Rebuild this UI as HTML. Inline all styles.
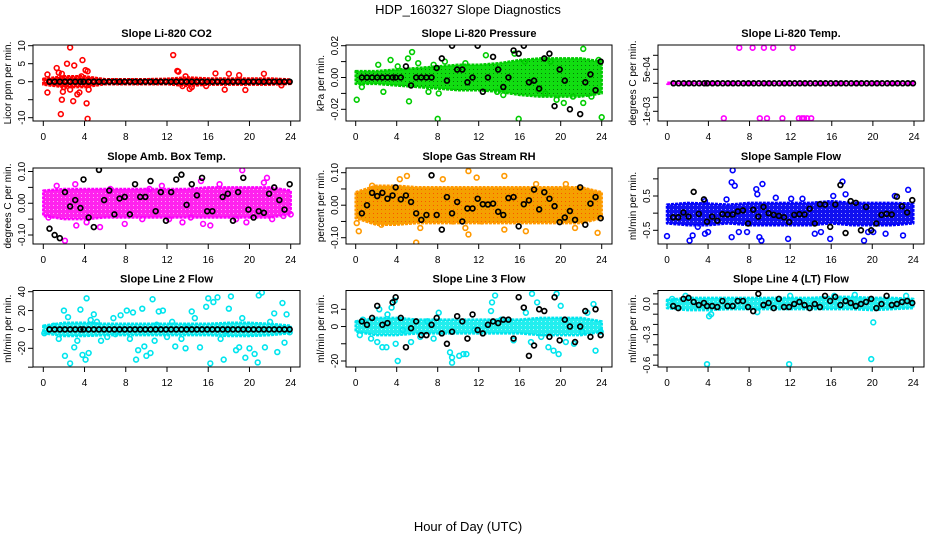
<!DOCTYPE html>
<html><head><meta charset="utf-8"><style>
html,body{margin:0;padding:0;background:#fff;}
svg{display:block;font-family:"Liberation Sans",sans-serif;}
</style></head><body>
<svg id="chart" width="936" height="540" viewBox="0 0 936 540">
<text x="468" y="14" text-anchor="middle" font-size="13">HDP_160327  Slope Diagnostics</text>
<text x="468" y="531" text-anchor="middle" font-size="13">Hour of Day (UTC)</text>
</svg>
<script>
// ---- shared data ----
const xTicks = [0,4,8,12,16,20,24];
const blackHours = [0.6,1.1,1.6,2.1,2.6,3.1,3.6,3.9,4.4,4.9,5.4,5.9,6.4,6.9,7.4,7.9,8.4,8.9,9.4,9.9,10.4,10.9,11.4,11.9,12.4,12.9,13.4,13.9,14.4,14.9,15.4,15.9,16.4,16.9,17.4,17.9,18.4,18.9,19.4,19.9,20.4,20.9,21.4,21.9,22.4,22.9,23.4,23.9];
const bandHours = [0,2,4,6,8,10,12,14,16,18,20,22,24];

// ---- panel 1: Li-820 CO2 ----
const p1BandLo = [-0.8,-1.5,-1.5,-0.7,-0.7,-0.7,-0.7,-1.2,-0.8,-0.8,-0.8,-0.8,-0.6];
const p1BandHi = [0.8,1.5,1.5,0.7,0.7,0.7,0.8,1.2,0.9,0.9,0.9,0.9,0.6];
const p1Hours = [2.6,12.6,3.8,2.3,3.0,1.3,4.1,4.3,13.0,13.1,1.8,0.4,1.7,1.8,2.9,4.3,4.2,3.3,2.6,4.4,1.9,0.4,3.7,16.7,18.0,19.0,21.4,17.6,19.6,14.2,14.4,13.5,13.8,23.1,15.8,1.5,2.0,3.5];
const p1Vals = [9.5,7.4,6.0,5.0,4.5,3.8,3.2,2.9,3.0,2.8,2.2,-3.0,-9.0,-5.0,-5.4,-10.3,-6.0,-3.5,-2.2,-2.2,-2.8,2.0,1.5,2.3,2.2,1.8,2.2,-2.2,-2.3,-2.0,-1.5,-1.2,1.5,-1.0,-1.2,2.5,-1.5,-3.0];
const p1Black = [0,0,0,0,0,0,0,0,0,0,0,0,0,0,0,0,0,0,0,0,0,0,0,0,0,0,0,0,0,0,0,0,0,0,0,0,0,0,0,0,0,0,0,0,0,0,0,0];

// ---- panel 2: Li-820 Pressure ----
const p2BandLo = [-0.004,-0.004,-0.005,-0.006,-0.007,-0.008,-0.008,-0.009,-0.011,-0.012,-0.012,-0.012,-0.01];
const p2BandHi = [0.004,0.004,0.005,0.006,0.007,0.008,0.008,0.009,0.011,0.012,0.012,0.012,0.01];
const p2Hours = [0.1,0.6,2.2,2.7,3.4,4.1,5.1,5.2,5.5,6.1,7.1,7.6,8.0,8.1,8.7,10.7,12.7,13.8,14.4,15.5,15.9,16.5,19.0,19.6,20.3,21.2,22.2,22.2,23.0,23.7,24.0,17.8,18.5];
const p2Vals = [-0.014,-0.006,0.008,-0.009,0.011,0.007,0.012,-0.015,0.016,0.009,-0.009,0.008,-0.026,-0.010,0.010,0.009,0.014,-0.009,-0.011,0.015,-0.026,0.010,0.010,-0.014,-0.016,-0.012,0.018,-0.016,-0.012,0.011,-0.025,-0.008,-0.010];
const p2Black = [0,0,0,0,0,0,0,0,0,0.007,-0.005,0,0,0,0,0.006,0.012,-0.002,0.02,0.005,0.005,-0.003,0,0.02,-0.009,0,0.013,0.005,-0.006,0,0.017,0.015,0.02,-0.003,-0.002,-0.007,0.012,0.015,-0.018,0.005,-0.002,-0.02,0.025,-0.023,-0.003,0.002,-0.008,0.01];

// ---- panel 3: Li-820 Temp ----
const p3BandLo = [-0.00002,-0.00002,-0.00002,-0.00002,-0.00002,-0.00002,-0.00002,-0.00002,-0.00002,-0.00002,-0.00002,-0.00002,-0.00002];
const p3BandHi = [0.00002,0.00002,0.00002,0.00002,0.00002,0.00002,0.00002,0.00002,0.00002,0.00002,0.00002,0.00002,0.00002];
const p3Hours = [7.0,8.3,9.4,10.3,12.2,5.5,9.0,9.7,11.2,12.8,13.1,13.3,13.6,14.0];
const p3Vals = [0.00127,0.00127,0.00127,0.00127,0.00127,-0.00125,-0.00125,-0.00125,-0.00125,-0.00125,-0.00125,-0.00125,-0.00125,-0.00125];
const p3Black = [0,0,0,0,0,0,0,0,0,0,0,0,0,0,0,0,0,0,0,0,0,0,0,0,0,0,0,0,0,0,0,0,0,0,0,0,0,0,0,0,0,0,0,0,0,0,0,0];

// ---- panel 4: Amb. Box Temp ----
const p4BandLo = [-0.04,-0.05,-0.05,-0.045,-0.045,-0.045,-0.045,-0.045,-0.045,-0.045,-0.045,-0.045,-0.035];
const p4BandHi = [0.04,0.045,0.045,0.045,0.045,0.045,0.045,0.045,0.05,0.05,0.05,0.05,0.04];
const p4Hours = [2.1,3.2,3.1,5.5,7.9,11.5,13.5,15.3,15.5,16.2,19.3,19.7,18.7,21.7,21.4,24.0,4.2,0.5,9.6,12.2,14.3,22.2,23.3,1.3,6.5,10.3,17.1];
const p4Vals = [-0.118,-0.07,0.06,-0.075,-0.065,0.055,-0.06,0.07,-0.065,-0.07,0.104,-0.06,-0.05,0.08,0.065,-0.035,-0.06,-0.045,-0.05,-0.05,-0.045,-0.05,-0.04,0.055,0.045,0.045,0.06];
const p4Black = [-0.08,-0.1,-0.11,0.035,-0.01,0.01,-0.015,0.075,-0.045,-0.075,0.105,0.01,0.04,-0.035,0.015,0.02,-0.035,0.06,0.02,0.02,0.07,-0.025,0.035,-0.055,0.035,0.075,0.09,-0.005,0.06,0.025,0.08,-0.025,-0.025,0.12,0.02,0.03,-0.055,0.035,0.08,-0.02,-0.045,-0.025,-0.03,0.03,0.05,0.01,-0.02,0.06];

// ---- panel 5: Gas Stream RH ----
const p5BandLo = [-0.04,-0.06,-0.06,-0.055,-0.055,-0.055,-0.055,-0.055,-0.055,-0.055,-0.055,-0.055,-0.04];
const p5BandHi = [0.04,0.06,0.06,0.055,0.055,0.055,0.055,0.055,0.055,0.055,0.055,0.055,0.04];
const p5Hours = [0.1,0.3,1.6,4.3,5.0,5.9,6.3,8.5,10.7,11.0,11.8,14.5,14.5,16.6,17.6,21.4,23.6,11.0,2.5,9.5,20.5,12.3];
const p5Vals = [-0.055,-0.08,0.06,0.08,0.09,-0.115,-0.07,0.08,-0.07,-0.09,0.085,0.09,-0.075,-0.08,0.065,-0.07,-0.085,0.105,-0.06,-0.05,0.065,-0.05];
const p5Black = [-0.025,0,0.038,0.028,0.038,0.02,0.03,0.055,0.018,0.03,0.01,-0.025,-0.045,-0.03,0.092,-0.03,-0.075,0.025,-0.025,0.01,-0.05,-0.01,-0.01,0.02,0.003,0.002,0.005,-0.02,-0.03,0.022,0.025,-0.065,0.003,0.015,0.048,-0.013,0.04,0.02,-0.003,-0.052,-0.038,-0.018,-0.045,0.055,-0.06,0.005,0.025,-0.04];

// ---- panel 6: Sample Flow ----
const p6BandLo = [-0.3,-0.35,-0.35,-0.3,-0.35,-0.35,-0.35,-0.35,-0.3,-0.35,-0.35,-0.35,-0.3];
const p6BandHi = [0.25,0.3,0.28,0.25,0.3,0.3,0.3,0.3,0.35,0.3,0.3,0.3,0.28];
const p6Hours = [0,2.2,2.5,3.0,3.7,4.0,6.4,6.3,6.6,6.3,7.0,8.7,8.8,9.0,9.2,9.3,7.8,11.8,12.1,14.4,15.9,16.2,17.1,17.4,19.2,19.6,20.1,21.3,22.2,23.0,23.5,3.7,5.8,10.6,13.2,15.0];
const p6Vals = [-0.67,-0.8,-0.65,-0.4,-0.6,-0.55,1.25,0.9,0.8,-0.7,-0.55,0.7,0.55,-0.7,-0.8,0.85,-0.55,-0.75,0.42,-0.6,-0.75,0.5,0.92,0.55,-0.8,-0.55,-0.55,-0.6,0.5,-0.65,0.68,0.35,0.4,0.45,0.42,-0.55];
const p6Black = [-0.12,-0.12,0.02,-0.1,0.62,-0.02,0.4,-0.25,-0.1,-0.22,-0.03,-0.04,-0.04,0.05,0.08,-0.3,0.1,-0.1,0.18,0,-0.05,-0.08,-0.12,-0.26,-0.05,-0.03,-0.04,0.13,-0.3,0.26,0.25,-0.4,0.25,0.82,-0.58,0.35,0.3,-0.5,0.18,-0.5,-0.3,-0.05,-0.02,-0.04,0.48,0.2,0.02,0.38];

// ---- panel 7: Line 2 Flow ----
const p7BandLo = [-4,-7,-7,-6,-6,-6,-6,-6,-6,-7,-7,-6,-4];
const p7BandHi = [4,7,7,6,6,6,6,6,6,7,7,6,4];
const p7Hours = [0.1,1.5,2.0,2.1,2.4,2.6,3.0,3.3,3.6,3.8,4.1,4.2,4.4,4.6,4.9,5.6,6.2,6.8,7.5,8.1,8.4,8.7,9.0,9.2,9.6,9.8,10.0,10.4,10.6,10.8,11.2,11.6,12.0,12.5,12.8,13.4,13.8,14.4,14.7,15.2,15.8,16.0,16.2,16.5,16.9,17.2,17.5,18.0,18.2,18.7,19.0,19.3,19.6,20.0,20.5,20.8,20.9,21.2,21.5,22.4,22.7,23.2,23.4,23.6,23.9,1.0,5.2,7.0,11.0,14.0,17.8,22.0];
const p7Vals = [-4,-10,20,-28,13,-36,-19,-12,21,-27,-32,33,-25,10,16,-12,-8,12,15,20,-10,18,-32,-22,22,-18,-28,-25,32,-12,19,20,-8,8,-18,-10,-20,19,12,-19,24,33,-36,29,34,-10,-32,22,35,-22,-19,12,-30,-20,-26,-35,36,39,-19,17,-24,28,-14,16,-3,4,8,-5,5,3,-2,8];
const p7Black = [0,0,0,0,0,0,0,0,0,0,0,0,0,0,0,0,0,0,0,0,0,0,0,0,0,0,0,0,0,0,0,0,0,0,0,0,0,0,0,0,0,0,0,0,0,0,0,0];

// ---- panel 8: Line 3 Flow ----
const p8BandLo = [-3,-5,-5,-4,-4,-4,-4,-4,-4,-5,-5,-5,-3];
const p8BandHi = [3,5,5,4,4,4,4,4,4,5,5,5,3];
const p8Hours = [0.4,0.7,1.5,2.1,2.3,2.6,3.0,3.1,3.5,3.8,3.9,4.1,4.6,5.4,6.3,7.6,8.1,9.2,9.4,10.1,10.5,10.8,13.2,13.3,13.6,15.4,16.6,17.2,17.1,17.7,18.1,18.8,19.3,19.6,19.8,20.0,20.5,21.3,22.1,22.6,23.2,23.4,23.9,11.6,14.2,7.0,9.4];
const p8Vals = [-5,4,-7,-9,10,-12,-12,7,11,15,-10,-20,-2,-9,-6,-7,8,-15,-18,-17,-16,-16,9,14,18,-8,8,19,-9,14,-6,-12,-14,19,-16,12,-9,-10,-3,8,13,-14,-3,-2,4,3,-21];
const p8Black = [3,1,5,12,1,2,14,17,5,-12,-1,3,-5,-5,1,5,-4,-10,-3,6,3,-7,7,-2,-4,1,3,2,4,4,-7,17,11,-17,-11,10,9,-6,17,-8,4,0,-9,0,9,-6,10,-5];

// ---- panel 9: Line 4 (LT) Flow ----
const p9BandLo = [-0.04,-0.06,-0.06,-0.05,-0.05,-0.05,-0.05,-0.05,-0.05,-0.05,-0.06,-0.05,-0.04];
const p9BandHi = [0.04,0.06,0.06,0.06,0.06,0.06,0.06,0.06,0.07,0.07,0.06,0.06,0.05];
const p9Hours = [3.9,11.9,19.9,20.1,4.1,4.3,8.8,0.5,16.3,18.3,23.3,1.8,12.0];
const p9Vals = [-0.59,-0.59,-0.54,-0.18,-0.12,-0.1,-0.08,0.05,0.08,0.09,0.08,0.08,0.08];
const p9Black = [-0.02,-0.04,0.05,0.06,0.02,-0.01,0.01,-0.02,-0.02,-0.03,0.03,-0.02,-0.02,0.03,0.03,-0.03,-0.07,0.1,-0.01,0.01,-0.04,0.05,-0.03,-0.03,0,0.02,-0.01,-0.04,0,-0.03,0.08,0.03,0.07,-0.01,0.03,0.01,-0.02,0,0.02,0.05,-0.04,0,0.08,-0.01,0,0.02,0.03,0.01];

// ---- layout (not data) ----
const NS = "http://www.w3.org/2000/svg";
const svg = document.getElementById('chart');
function mk(tag, attrs, parent){ const e=document.createElementNS(NS,tag); for(const k in attrs) e.setAttribute(k,attrs[k]); (parent||svg).appendChild(e); return e; }
const defs = mk('defs',{});

const panels = [
 {id:'co2', title:'Slope Li-820 CO2', ylab:'Licor ppm per min.', box:[33,45,300,121], xr:[43.3,290.7], yd:[10,-10], yr:[45.7,117.7], ticks:[-10,-5,0,5,10], labels:[[10,'10'],[5,'5'],[0,'0'],[-10,'-10']], color:'#ff0000', band:'#ff0000', dot:'#ffffff', lo:p1BandLo, hi:p1BandHi, hs:p1Hours, vs:p1Vals, blk:p1Black},
 {id:'pressure', title:'Slope Li-820 Pressure', ylab:'kPa per min.', box:[346,45,612,121], xr:[355.7,601.7], yd:[0.02,-0.02], yr:[45.7,109.3], ticks:[-0.02,-0.01,0,0.01,0.02], labels:[[0.02,'0.02'],[0,'0.00'],[-0.02,'-0.02']], color:'#00cc00', band:'#11dd11', dot:'#003300', lo:p2BandLo, hi:p2BandHi, hs:p2Hours, vs:p2Vals, blk:p2Black},
 {id:'temp', title:'Slope Li-820 Temp.', ylab:'degrees C per min.', box:[658,45,924,121], xr:[667.3,914], yd:[0.0005,0], yr:[69.3,83.3], ticks:[-0.001,-0.0005,0,0.0005,0.001], labels:[[0.0005,'5e-04'],[-0.001,'-1e-03']], color:'#ff00ff', band:'#ff00ff', dot:'#ffffff', lo:p3BandLo, hi:p3BandHi, hs:p3Hours, vs:p3Vals, blk:p3Black},
 {id:'ambtemp', title:'Slope Amb. Box Temp.', ylab:'degrees C per min.', box:[33,168,300,244], xr:[43.3,290.7], yd:[0.1,-0.1], yr:[171.5,235], ticks:[-0.1,-0.05,0,0.05,0.1], labels:[[0.1,'0.10'],[0,'0.00'],[-0.1,'-0.10']], color:'#ff00ff', band:'#ff22ee', dot:'#ffffff', lo:p4BandLo, hi:p4BandHi, hs:p4Hours, vs:p4Vals, blk:p4Black},
 {id:'rh', title:'Slope Gas Stream RH', ylab:'percent per min.', box:[346,168,612,244], xr:[355.7,601.7], yd:[0.1,-0.1], yr:[172.7,237.7], ticks:[-0.1,-0.05,0,0.05,0.1], labels:[[0.1,'0.10'],[0,'0.00'],[-0.1,'-0.10']], color:'#ff9900', band:'#f5a000', dot:'#ff2200', lo:p5BandLo, hi:p5BandHi, hs:p5Hours, vs:p5Vals, blk:p5Black},
 {id:'sampleflow', title:'Slope Sample Flow', ylab:'ml/min per min.', box:[658,168,924,244], xr:[667,913.3], yd:[0.5,-0.5], yr:[196,230.3], ticks:[-0.5,0,0.5,1], labels:[[0.5,'0.5'],[-0.5,'-0.5']], color:'#0000ff', band:'#1010f0', dot:'#ffffff', lo:p6BandLo, hi:p6BandHi, hs:p6Hours, vs:p6Vals, blk:p6Black},
 {id:'line2', title:'Slope Line 2 Flow', ylab:'ml/min per min.', box:[33,290.5,300,367], xr:[43.3,290.7], yd:[40,-20], yr:[291.7,348.3], ticks:[-40,-20,0,20,40], labels:[[40,'40'],[20,'20'],[0,'0'],[-20,'-20']], color:'#00e5ee', band:'#22eeee', dot:'#ffffff', lo:p7BandLo, hi:p7BandHi, hs:p7Hours, vs:p7Vals, blk:p7Black},
 {id:'line3', title:'Slope Line 3 Flow', ylab:'ml/min per min.', box:[346,290.5,612,367], xr:[355.7,601.7], yd:[10,-20], yr:[309.3,361], ticks:[-20,-10,0,10], labels:[[10,'10'],[0,'0'],[-20,'-20']], color:'#00e5ee', band:'#22eeee', dot:'#ffffff', lo:p8BandLo, hi:p8BandHi, hs:p8Hours, vs:p8Vals, blk:p8Black},
 {id:'line4', title:'Slope Line 4 (LT) Flow', ylab:'ml/min per min.', box:[658,290.5,924,367], xr:[667,913.3], yd:[0,-0.6], yr:[304,365.2], ticks:[0.1,0,-0.1,-0.2,-0.3,-0.4,-0.5,-0.6], labels:[[0,'0.0'],[-0.3,'-0.3'],[-0.6,'-0.6']], color:'#00e5ee', band:'#22eeee', dot:'#ffffff', lo:p9BandLo, hi:p9BandHi, hs:p9Hours, vs:p9Vals, blk:p9Black}
];

panels.forEach(p=>{
  const [bx0,by0,bx1,by1]=p.box;
  const xs = h => p.xr[0] + (h/24)*(p.xr[1]-p.xr[0]);
  const ys = v => p.yr[0] + (v-p.yd[0])/(p.yd[1]-p.yd[0])*(p.yr[1]-p.yr[0]);
  // texture pattern for dense band
  const pat = mk('pattern',{id:'pat-'+p.id,width:4,height:4,patternUnits:'userSpaceOnUse'},defs);
  mk('rect',{x:0,y:0,width:4,height:4,fill:p.band},pat);
  mk('rect',{x:1,y:1,width:1,height:1,fill:p.dot,'fill-opacity':0.6},pat);
  const g = mk('g',{});
  
  
  const clipId='clip-'+p.id;
  const cp=mk('clipPath',{id:clipId},g); mk('rect',{x:bx0,y:by0,width:bx1-bx0,height:by1-by0},cp);
  const t = mk('text',{x:(bx0+bx1)/2,y:by0-8,'text-anchor':'middle','font-size':11,'font-weight':'bold'},g);
  t.textContent=p.title;
  
  
  const yl = mk('text',{x:0,y:0,'text-anchor':'middle','font-size':10,transform:`translate(${bx0-22},${(by0+by1)/2}) rotate(-90)`},g);
  yl.textContent=p.ylab;
  
  
  const dl = mk('g',{'clip-path':`url(#${clipId})`},g);
  let pts=[];
  bandHours.forEach((h,i)=>pts.push(xs(h).toFixed(1)+','+ys(p.hi[i]).toFixed(1)));
  for(let i=bandHours.length-1;i>=0;i--) pts.push(xs(bandHours[i]).toFixed(1)+','+ys(p.lo[i]).toFixed(1));
  const band = mk('polygon',{points:pts.join(' '),fill:`url(#pat-${p.id})`,stroke:p.color,'stroke-width':2.5,'stroke-linejoin':'round','stroke-dasharray':'3 1'},dl);
  
  
  p.hs.forEach((h,i)=>{
    const c = mk('circle',{cx:xs(h),cy:ys(p.vs[i]),r:2.4,fill:'none',stroke:p.color,'stroke-width':1.6},dl);
    
    
  });
  blackHours.forEach((h,i)=>{
    const c = mk('circle',{cx:xs(h),cy:ys(p.blk[i]),r:2.4,fill:'none',stroke:'#000','stroke-width':1.7},dl);
    
    
  });
  const box = mk('rect',{x:bx0,y:by0,width:bx1-bx0,height:by1-by0,fill:'none',stroke:'#000','stroke-width':1},g);
  
  
  xTicks.forEach(h=>{
    mk('line',{x1:xs(h),x2:xs(h),y1:by1,y2:by1+5,stroke:'#000'},g);
    const tl=mk('text',{x:xs(h),y:by1+19,'text-anchor':'middle','font-size':10},g);
    tl.textContent=h;
    
    
  });
  mk('line',{x1:xs(0),x2:xs(24),y1:by1,y2:by1,stroke:'#000'},g);
  p.ticks.forEach(v=>{
    const y=ys(v); if(y<by0-2||y>by1+2) return;
    mk('line',{x1:bx0,x2:bx0-5,y1:y,y2:y,stroke:'#000'},g);
  });
  p.labels.forEach(([v,s])=>{
    const y=ys(v);
    const tl=mk('text',{x:0,y:0,'text-anchor':'middle','font-size':10,transform:`translate(${bx0-8},${y}) rotate(-90)`},g);
    tl.textContent=s;
    
    
  });
});
</script>
</body></html>
